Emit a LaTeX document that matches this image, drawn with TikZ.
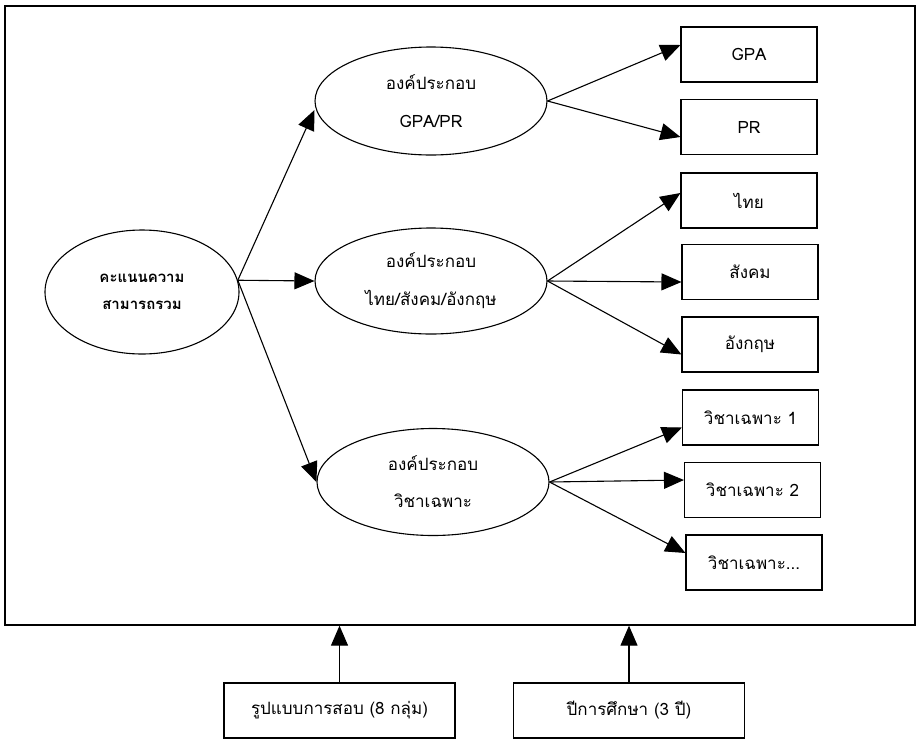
\documentclass[tikz,border=0pt]{standalone}
\usepackage{fontspec}
\setmainfont[Script=Thai]{Loma}
\usetikzlibrary{shapes.geometric,arrows.meta}
\begin{document}
\begin{tikzpicture}[x=1pt,y=-1pt,
  every node/.style={font=\fontsize{17}{20}\selectfont},
  oval/.style={draw,ellipse,line width=1.1pt,inner sep=0pt,align=center},
  leaf/.style={draw,rectangle,line width=1.1pt,minimum width=136pt,minimum height=55pt,inner sep=0pt},
  base/.style={draw,rectangle,line width=1.1pt,minimum width=231pt,minimum height=55pt,inner sep=0pt},
  link/.style={line width=1.1pt,-{Triangle[length=20pt,width=17pt]}}]
\useasboundingbox (0,0) rectangle (920,742);
\node[draw,line width=1.3pt,minimum width=910pt,minimum height=619pt,inner sep=0pt] (frame) at (460,315.5) {};
% ellipses
\node[oval,minimum width=194pt,minimum height=124pt,font=\fontsize{15}{18}\selectfont\bfseries] (m) at (142,292) {คะแนนความ\\[9pt]สามารถรวม};
\node[oval,minimum width=232pt,minimum height=108pt] (e1) at (431,101) {องค์ประกอบ\\[18pt]GPA/PR};
\node[oval,minimum width=232pt,minimum height=106pt] (e2) at (431,281) {องค์ประกอบ\\[18pt]ไทย/สังคม/อังกฤษ};
\node[oval,minimum width=232pt,minimum height=107pt] (e3) at (433,482) {องค์ประกอบ\\[17pt]วิชาเฉพาะ};
% boxes
\node[leaf] (gpa) at (749,54.5) {GPA};
\node[leaf] (pr) at (749,127) {PR};
\node[leaf] (thai) at (749,200.5) {ไทย};
\node[leaf] (soc) at (750,272) {สังคม};
\node[leaf] (eng) at (750,344.5) {อังกฤษ};
\node[leaf] (s1) at (750.5,417.5) {วิชาเฉพาะ 1};
\node[leaf] (s2) at (752.5,490) {วิชาเฉพาะ 2};
\node[leaf] (s3) at (754,562.5) {วิชาเฉพาะ...};
\node[base] (b1) at (339.5,710.5) {รูปแบบการสอบ (8 กลุ่ม)};
\node[base] (b2) at (629,710.5) {ปีการศึกษา (3 ปี)};
% arrows
\draw[link] (m.7) -- ([yshift=-9pt]e1.west);
\draw[link] (m.7) -- (e2.west);
\draw[link] (m.7) -- (e3.west);
\draw[link] (e1.east) -- ([yshift=9.5pt]gpa.west);
\draw[link] (e1.east) -- ([yshift=-10pt]pr.west);
\draw[link] (e2.east) -- ([yshift=7.5pt]thai.west);
\draw[link] (e2.east) -- ([yshift=-10pt]soc.west);
\draw[link] (e2.east) -- ([yshift=-10pt]eng.west);
\draw[link] (e3.east) -- ([yshift=-10pt]s1.west);
\draw[link] (e3.east) -- ([yshift=10pt]s2.west);
\draw[link] (e3.east) -- ([yshift=9.5pt]s3.west);
\draw[link] (b1.north) -- (b1.north |- frame.south);
\draw[link] (b2.north) -- (b2.north |- frame.south);
\end{tikzpicture}
\end{document}
